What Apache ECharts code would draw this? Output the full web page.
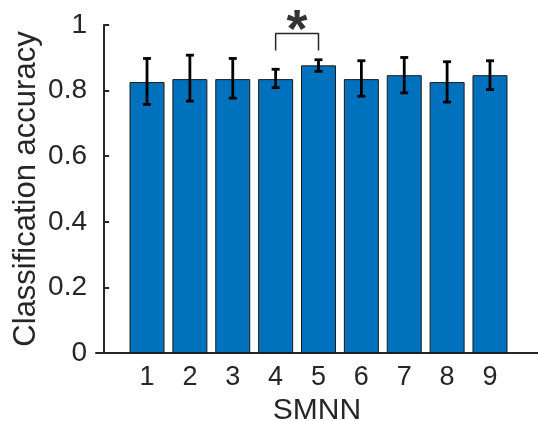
<!DOCTYPE html>
<html>
<head>
<meta charset="utf-8">
<script src="https://cdn.jsdelivr.net/npm/echarts@6/dist/echarts.min.js"></script>
<style>
  html, body { margin: 0; padding: 0; background: #fff; }
  #main { width: 538px; height: 421px; }
</style>
</head>
<body>
<div id="main"></div>
<script>
// SMNN index on x, mean accuracy with error bar ends
const categories = [1, 2, 3, 4, 5, 6, 7, 8, 9];
const accuracy = [0.826, 0.835, 0.835, 0.835, 0.877, 0.835, 0.847, 0.826, 0.847];
const errLow = [0.758, 0.768, 0.777, 0.809, 0.859, 0.783, 0.793, 0.765, 0.803];
const errHigh = [0.898, 0.908, 0.898, 0.865, 0.894, 0.891, 0.901, 0.888, 0.891];
const yTicks = [0, 0.2, 0.4, 0.6, 0.8, 1];

// significance bracket between 4 and 5
const bracket = [[4, 0.922], [4, 0.974], [5, 0.974], [5, 0.922]];
const starAt = [[4.5, 0.974]];

const FONT = '"Liberation Sans", Arial, sans-serif';
const INK = '#262626';

const chart = echarts.init(document.getElementById('main'));

const option = {
    animation: false,
    textStyle: { fontFamily: FONT },
    grid: { left: 96, right: 0, top: 25, bottom: 68, outerBoundsMode: 'none' },
    xAxis: {
        type: 'value',
        min: -0.19,
        max: 10.12,
        name: 'SMNN',
        nameLocation: 'middle',
        nameGap: 40,
        nameTextStyle: { fontSize: 30, color: INK, fontFamily: FONT },
        axisLine: { lineStyle: { color: INK, width: 2 } },
        axisTick: { show: false },
        splitLine: { show: false },
        axisLabel: {
            customValues: categories,
            fontSize: 27,
            color: INK,
            margin: 11,
            fontFamily: FONT
        }
    },
    yAxis: {
        type: 'value',
        min: 0,
        max: 1,
        interval: 0.2,
        name: 'Classification accuracy',
        nameLocation: 'middle',
        nameGap: 54,
        nameMoveOverlap: false,
        nameTextStyle: { fontSize: 31, color: INK, fontFamily: FONT },
        axisLine: { show: true, lineStyle: { color: INK, width: 2 } },
        axisTick: { show: true, inside: true, length: 5, lineStyle: { color: INK, width: 2 } },
        splitLine: { show: false },
        axisLabel: {
            customValues: yTicks,
            fontSize: 28,
            color: INK,
            margin: 9,
            fontFamily: FONT
        }
    },
    series: [
        {
            type: 'bar',
            barWidth: 35,
            data: categories.map((c, i) => [c, accuracy[i]]),
            itemStyle: { color: '#0072BD', borderColor: '#1a1a1a', borderWidth: 1 },
            z: 2
        },
        {
            type: 'custom',
            z: 5,
            data: categories.map((c, i) => [c, errLow[i], errHigh[i]]),
            renderItem: function (params, api) {
                const lo = api.coord([api.value(0), api.value(1)]);
                const hi = api.coord([api.value(0), api.value(2)]);
                const cap = 4;
                const st = { stroke: '#000', lineWidth: 2.8 };
                return {
                    type: 'group',
                    children: [
                        { type: 'line', shape: { x1: lo[0], y1: lo[1], x2: hi[0], y2: hi[1] }, style: st },
                        { type: 'line', shape: { x1: lo[0] - cap, y1: lo[1], x2: lo[0] + cap, y2: lo[1] }, style: st },
                        { type: 'line', shape: { x1: hi[0] - cap, y1: hi[1], x2: hi[0] + cap, y2: hi[1] }, style: st }
                    ]
                };
            }
        },
        {
            type: 'line',
            data: bracket,
            symbol: 'none',
            clip: false,
            lineStyle: { color: INK, width: 1.5 },
            z: 5
        },
        {
            type: 'scatter',
            data: starAt,
            symbolSize: 0,
            clip: false,
            label: {
                show: true,
                formatter: '*',
                position: 'top',
                distance: -26,
                fontSize: 54,
                fontWeight: 'bold',
                color: '#000',
                fontFamily: FONT
            },
            z: 6
        }
    ]
};

chart.setOption(option);
</script>
</body>
</html>
